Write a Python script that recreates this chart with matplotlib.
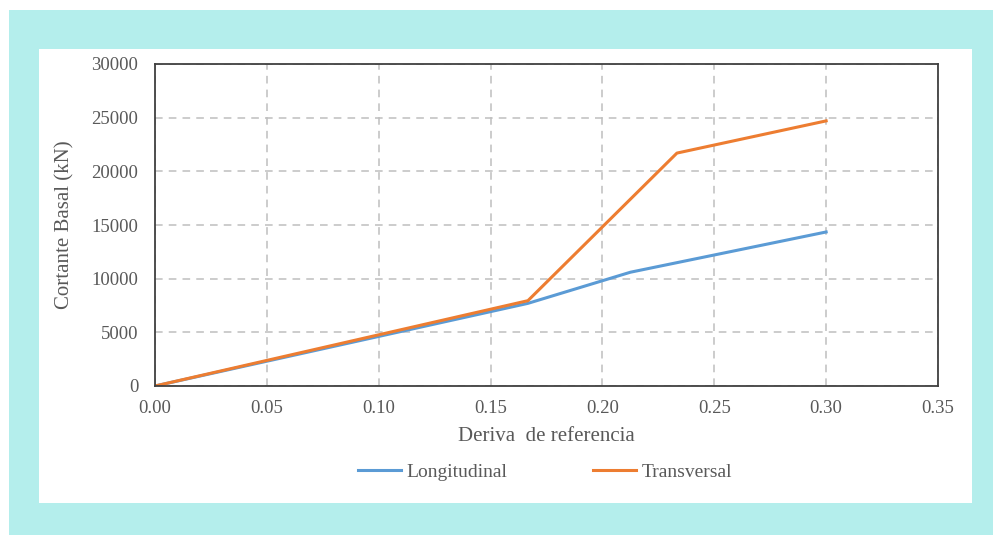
import matplotlib.pyplot as plt
from matplotlib.patches import Rectangle

# data
deriva_long = [0.0, 0.1667, 0.2125, 0.30]
cortante_long = [0, 7700, 10600, 14350]
deriva_trans = [0.0, 0.1667, 0.2333, 0.30]
cortante_trans = [0, 7950, 21700, 24700]
x_ticks = [0.0, 0.05, 0.10, 0.15, 0.20, 0.25, 0.30, 0.35]
y_ticks = [0, 5000, 10000, 15000, 20000, 25000, 30000]

plt.rcParams['font.family'] = ['Liberation Serif', 'DejaVu Serif']
text_col = '#595959'

fig = plt.figure(figsize=(9.93, 5.35), dpi=100)
fig.patch.set_facecolor('white')

# cyan frame + white panel
fig.patches.append(Rectangle((9/993, 0), 1 - 9/993, 1 - 10/535,
                             transform=fig.transFigure, facecolor='#B4EEEC',
                             edgecolor='none', zorder=-2))
fig.patches.append(Rectangle((39/993, 1 - 503/535), (972 - 39)/993, (503 - 49)/535,
                             transform=fig.transFigure, facecolor='white',
                             edgecolor='none', zorder=-1))

ax = fig.add_axes([155/993, 1 - 386/535, (938 - 155)/993, (386 - 64)/535])
ax.set_facecolor('white')

ax.plot(deriva_long, cortante_long, color='#5B9BD5', lw=2.2, label='Longitudinal')
ax.plot(deriva_trans, cortante_trans, color='#ED7D31', lw=2.2, label='Transversal')

ax.set_xlim(0, 0.35)
ax.set_ylim(0, 30000)
ax.set_xticks(x_ticks)
ax.set_yticks(y_ticks)
ax.set_xticklabels([f'{v:.2f}' for v in x_ticks])
ax.set_yticklabels([str(v) for v in y_ticks])
ax.tick_params(length=0, labelsize=13.5, colors=text_col, pad=12)
ax.tick_params(axis='x', pad=10)

ax.grid(True, color='#BFBFBF', ls=(0, (5, 4)), lw=1.1)
ax.set_axisbelow(True)
for s in ax.spines.values():
    s.set_color('#404040')
    s.set_linewidth(1.3)

ax.set_xlabel('Deriva  de referencia', fontsize=15, color=text_col, labelpad=7)
ax.set_ylabel('Cortante Basal (kN)', fontsize=15, color=text_col, labelpad=12)

fig.legend(loc='center', bbox_to_anchor=(545/993, 1 - 472/535), ncol=2,
           frameon=False, fontsize=14, handlelength=2.2, handletextpad=0.3,
           columnspacing=4.4, labelcolor=text_col)

fig.savefig('out.png', dpi=100)
